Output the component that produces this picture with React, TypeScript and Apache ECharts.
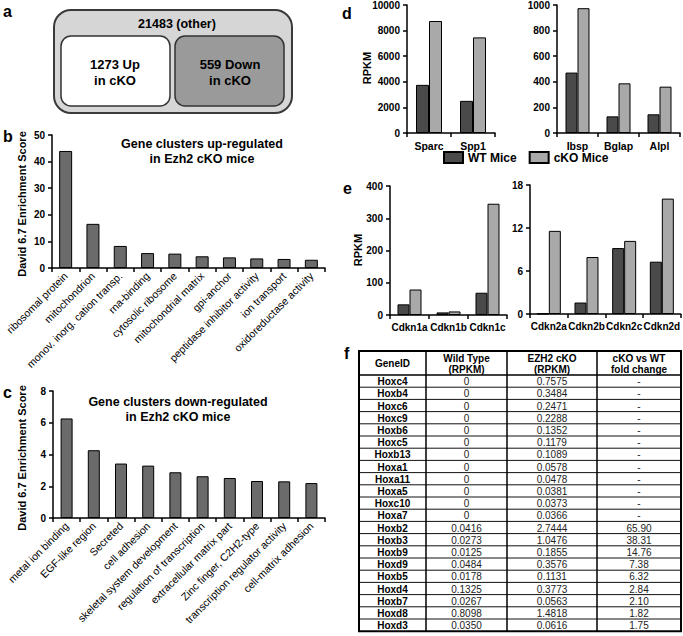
import React, { useEffect, useRef } from "react";
import * as echarts from "echarts";

// ---------- data ----------
const vennOther = 21483;
const vennUp = 1273;
const vennDown = 559;

const upCategories = [
  "ribosomal protein",
  "mitochondrion",
  "monov. inorg. cation transp.",
  "rna-binding",
  "cytosolic ribosome",
  "mitochondrial matrix",
  "gpi-anchor",
  "peptidase inhibitor activity",
  "ion transport",
  "oxidoreductase activity",
];
const upScores = [44.0, 16.6, 8.3, 5.6, 5.4, 4.4, 4.0, 3.6, 3.4, 3.1];

const downCategories = [
  "metal ion binding",
  "EGF-like region",
  "Secreted",
  "cell adhesion",
  "skeletal system development",
  "regulation of transcription",
  "extracellular matrix part",
  "Zinc finger, C2H2-type",
  "transcription regulator activity",
  "cell-matrix adhesion",
];
const downScores = [6.27, 4.27, 3.43, 3.3, 2.88, 2.63, 2.52, 2.33, 2.31, 2.2];

const boneGenesHigh = ["Sparc", "Spp1"];
const boneHighWT = [3760, 2510];
const boneHighCKO = [8750, 7470];
const boneGenesLow = ["Ibsp", "Bglap", "Alpl"];
const boneLowWT = [472, 130, 146];
const boneLowCKO = [975, 388, 362];

const cdkn1Genes = ["Cdkn1a", "Cdkn1b", "Cdkn1c"];
const cdkn1WT = [33, 8, 69];
const cdkn1CKO = [79, 11, 345];
const cdkn2Genes = ["Cdkn2a", "Cdkn2b", "Cdkn2c", "Cdkn2d"];
const cdkn2WT = [0.05, 1.6, 9.2, 7.3];
const cdkn2CKO = [11.6, 7.95, 10.2, 16.1];

const tableHeaders = ["GeneID", "Wild Type\n(RPKM)", "EZH2 cKO\n(RPKM)", "cKO vs WT\nfold change"];
const hoxGenes = [
  "Hoxc4", "Hoxb4", "Hoxc6", "Hoxc9", "Hoxb6", "Hoxc5", "Hoxb13", "Hoxa1", "Hoxa11", "Hoxa5", "Hoxc10",
  "Hoxa7", "Hoxb2", "Hoxb3", "Hoxb9", "Hoxd9", "Hoxb5", "Hoxd4", "Hoxb7", "Hoxd8", "Hoxd3",
];
const hoxWT = [0, 0, 0, 0, 0, 0, 0, 0, 0, 0, 0, 0, 0.0416, 0.0273, 0.0125, 0.0484, 0.0178, 0.1325, 0.0267, 0.8098, 0.035];
const hoxCKO = [
  0.7575, 0.3484, 0.2471, 0.2288, 0.1352, 0.1179, 0.1089, 0.0578, 0.0478, 0.0381, 0.0373, 0.0366, 2.7444,
  1.0476, 0.1855, 0.3576, 0.1131, 0.3773, 0.0563, 1.4818, 0.0616,
];
const hoxFold: (number | null)[] = [
  null, null, null, null, null, null, null, null, null, null, null, null, 65.9, 38.31, 14.76, 7.38, 6.32, 2.84,
  2.1, 1.82, 1.75,
];

// ---------- styles ----------
const FONT = "'Liberation Sans', Arial, Helvetica, sans-serif";
const WT_COLOR = "#4a4a4a";
const CKO_COLOR = "#a9a9a9";
const CLUSTER_COLOR = "#6b6b6b";

const axisLine = { show: true, lineStyle: { color: "#000", width: 1.5 } };
const axisTick = { show: true, length: 4, inside: false, lineStyle: { color: "#000", width: 1.5 } };
const boldLabel = { color: "#000", fontFamily: FONT, fontWeight: "bold" as const, fontSize: 10 };

function txt(x: number, y: number, text: string, opts: any = {}) {
  const align = opts.align ?? "center";
  const valign = opts.valign ?? "middle";
  return {
    type: "text",
    x,
    y,
    rotation: opts.rotation ?? 0,
    silent: true,
    style: {
      text,
      fill: opts.color ?? "#000",
      font: `${opts.weight ?? "bold"} ${opts.size ?? 12}px ${FONT}`,
      align,
      verticalAlign: valign,
      textAlign: align,
      textVerticalAlign: valign,
      lineHeight: opts.lineHeight,
    },
  };
}

function catX(gridIndex: number, data: string[], opts: any = {}) {
  return {
    type: "category",
    gridIndex,
    data,
    axisLine,
    axisTick: { ...axisTick, interval: 0, alignWithLabel: false },
    axisLabel: {
      interval: 0,
      margin: opts.margin ?? 6,
      rotate: opts.rotate ?? 0,
      ...(opts.rotate
        ? { color: "#000", fontFamily: FONT, fontSize: 10.6 }
        : { ...boldLabel, fontSize: opts.size ?? 10.5 }),
    },
    splitLine: { show: false },
  };
}

function valY(gridIndex: number, max: number, interval: number) {
  return {
    type: "value",
    gridIndex,
    min: 0,
    max,
    interval,
    axisLine,
    axisTick,
    axisLabel: { ...boldLabel, margin: 7, formatter: (v: number) => String(v) },
    splitLine: { show: false },
  };
}

function pairSeries(idx: number, wt: number[], cko: number[], width: number) {
  const common = {
    type: "bar",
    xAxisIndex: idx,
    yAxisIndex: idx,
    barWidth: width,
    barGap: "0%",
  };
  return [
    { ...common, name: "WT Mice", data: wt, itemStyle: { color: WT_COLOR, borderColor: "#000", borderWidth: 1 } },
    { ...common, name: "cKO Mice", data: cko, itemStyle: { color: CKO_COLOR, borderColor: "#000", borderWidth: 1 } },
  ];
}

function buildTable() {
  const cols = [359, 426, 507, 597, 681];
  const top = 351;
  const headH = 24;
  const rowH = 12.2;
  const bottom = top + headH + rowH * hoxGenes.length;
  const els: any[] = [];
  for (let i = 1; i < hoxGenes.length; i++) {
    const y = top + headH + rowH * i;
    els.push({
      type: "line",
      silent: true,
      shape: { x1: cols[0], y1: y, x2: cols[4], y2: y },
      style: { stroke: "#111", lineWidth: 1 },
    });
  }
  els.push({
    type: "line",
    silent: true,
    shape: { x1: cols[0], y1: top + headH, x2: cols[4], y2: top + headH },
    style: { stroke: "#000", lineWidth: 1.5 },
  });
  for (let c = 1; c < 4; c++) {
    els.push({
      type: "line",
      silent: true,
      shape: { x1: cols[c], y1: top, x2: cols[c], y2: bottom },
      style: { stroke: "#000", lineWidth: 1.5 },
    });
  }
  els.push({
    type: "rect",
    silent: true,
    shape: { x: cols[0], y: top, width: cols[4] - cols[0], height: bottom - top },
    style: { fill: "none", stroke: "#000", lineWidth: 2 },
  });
  tableHeaders.forEach((h, c) => {
    els.push(txt((cols[c] + cols[c + 1]) / 2, top + headH / 2 + 0.5, h, { size: 10, lineHeight: 11 }));
  });
  hoxGenes.forEach((g, i) => {
    const cy = top + headH + rowH * i + rowH / 2 + 0.5;
    const wt = hoxWT[i] === 0 ? "0" : hoxWT[i].toFixed(4);
    const fold = hoxFold[i] === null ? "-" : (hoxFold[i] as number).toFixed(2);
    const vals = [g, wt, hoxCKO[i].toFixed(4), fold];
    vals.forEach((v, c) => {
      els.push(
        txt((cols[c] + cols[c + 1]) / 2, cy, v, {
          size: 10,
          weight: c === 0 ? "bold" : "normal",
          color: c === 0 ? "#000" : "#222",
        })
      );
    });
  });
  return els;
}

function buildOption(): any {
  const graphic: any[] = [
    txt(3, 11, "a", { size: 16, align: "left" }),
    txt(3, 136, "b", { size: 16, align: "left" }),
    txt(3, 392, "c", { size: 16, align: "left" }),
    txt(342, 13, "d", { size: 16, align: "left" }),
    txt(343, 188, "e", { size: 16, align: "left" }),
    txt(344, 353, "f", { size: 16, align: "left" }),
    {
      type: "rect",
      silent: true,
      shape: { x: 54, y: 10, width: 238, height: 103, r: 17 },
      style: { fill: "#d6d6d6", stroke: "#3a3a3a", lineWidth: 2 },
    },
    {
      type: "rect",
      silent: true,
      shape: { x: 61, y: 36, width: 109, height: 70, r: 10 },
      style: { fill: "#ffffff", stroke: "#333", lineWidth: 1.5 },
    },
    {
      type: "rect",
      silent: true,
      shape: { x: 175, y: 36, width: 109, height: 70, r: 10 },
      style: { fill: "#9a9a9a", stroke: "#333", lineWidth: 1.5 },
    },
    txt(177, 24, `${vennOther} (other)`, { size: 12.5 }),
    txt(115, 72, `${vennUp} Up\nin cKO`, { size: 13, lineHeight: 16 }),
    txt(230, 72, `${vennDown} Down\nin cKO`, { size: 13, lineHeight: 16 }),
    txt(202, 151, "Gene clusters up-regulated\nin Ezh2 cKO mice", { size: 12.5, lineHeight: 15 }),
    txt(178, 409, "Gene clusters down-regulated\nin Ezh2 cKO mice", { size: 12.5, lineHeight: 15 }),
    txt(22, 204, "David 6.7 Enrichment Score", { size: 11, rotation: Math.PI / 2 }),
    txt(22, 458, "David 6.7 Enrichment Score", { size: 11, rotation: Math.PI / 2 }),
    txt(367, 68, "RPKM", { size: 11, rotation: Math.PI / 2 }),
    txt(358, 250, "RPKM", { size: 11, rotation: Math.PI / 2 }),
    ...buildTable(),
  ];

  return {
    animation: false,
    backgroundColor: "#ffffff",
    textStyle: { fontFamily: FONT },
    legend: {
      data: ["WT Mice", "cKO Mice"],
      left: 443,
      top: 151,
      itemWidth: 19,
      itemHeight: 11,
      itemGap: 12,
      icon: "rect",
      selectedMode: false,
      padding: 0,
      textStyle: { color: "#000", fontFamily: FONT, fontWeight: "bold", fontSize: 12 },
    },
    grid: [
      { left: 52, top: 135, width: 273, height: 133 },
      { left: 53, top: 391, width: 272, height: 127 },
      { left: 407, top: 5, width: 88, height: 128 },
      { left: 557, top: 4, width: 123, height: 129 },
      { left: 390, top: 186, width: 117, height: 129 },
      { left: 530, top: 185, width: 152, height: 129 },
    ],
    xAxis: [
      catX(0, upCategories, { rotate: 45, margin: 6 }),
      catX(1, downCategories, { rotate: 45, margin: 6 }),
      catX(2, boneGenesHigh, { margin: 7 }),
      catX(3, boneGenesLow, { margin: 7 }),
      catX(4, cdkn1Genes, { margin: 7, size: 10 }),
      catX(5, cdkn2Genes, { margin: 7, size: 10 }),
    ],
    yAxis: [
      valY(0, 50, 10),
      valY(1, 8, 2),
      valY(2, 10000, 2000),
      valY(3, 1000, 200),
      valY(4, 400, 100),
      valY(5, 18, 6),
    ],
    series: [
      {
        type: "bar",
        name: "up",
        xAxisIndex: 0,
        yAxisIndex: 0,
        data: upScores,
        barWidth: 13,
        itemStyle: { color: CLUSTER_COLOR, borderColor: "#000", borderWidth: 1 },
      },
      {
        type: "bar",
        name: "down",
        xAxisIndex: 1,
        yAxisIndex: 1,
        data: downScores,
        barWidth: 12,
        itemStyle: { color: CLUSTER_COLOR, borderColor: "#000", borderWidth: 1 },
      },
      ...pairSeries(2, boneHighWT, boneHighCKO, 13),
      ...pairSeries(3, boneLowWT, boneLowCKO, 12),
      ...pairSeries(4, cdkn1WT, cdkn1CKO, 12),
      ...pairSeries(5, cdkn2WT, cdkn2CKO, 12),
    ],
    graphic,
  };
}

export default function App() {
  const ref = useRef<HTMLDivElement>(null);
  useEffect(() => {
    if (!ref.current) return;
    const chart = echarts.init(ref.current, undefined, { renderer: "svg" });
    chart.setOption(buildOption());
    return () => chart.dispose();
  }, []);
  return (
    <div
      ref={ref}
      style={{ position: "absolute", left: 0, top: 0, width: 683, height: 636, background: "#fff" }}
    />
  );
}
